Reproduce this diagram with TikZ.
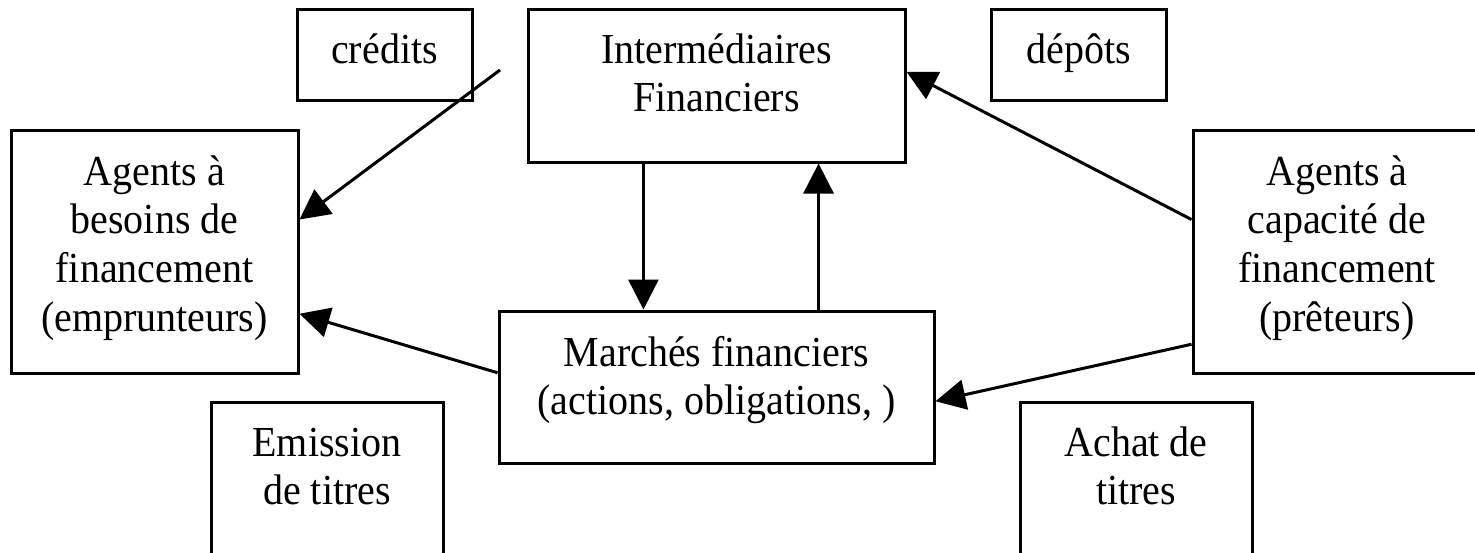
\documentclass[tikz,border=0pt]{standalone}
\usepackage{fontspec}
\setmainfont{Liberation Serif}
\usepackage{graphicx}
\usetikzlibrary{arrows.meta,calc}
\newcommand\boxtext[1]{\scalebox{1}[1.07]{\begin{tabular}[t]{@{}c@{}}#1\end{tabular}}}
\begin{document}
\begin{tikzpicture}[x=0.5pt,y=-0.5pt,
  box/.style={draw=black,line width=1.5pt,inner sep=0pt},
  txt/.style={anchor=base,inner sep=0pt,font=\fontsize{20}{22.76}\selectfont},
  arr/.style={line width=1.5pt,-{Triangle[length=15pt,width=15pt]}},
  ln/.style={line width=1.5pt}]
\useasboundingbox (0,0) rectangle (1475,552);
\clip (0,0) rectangle (1475,552);
\fill[white] (0,0) rectangle (1475,552);
% boxes
\node[box,minimum width=87.5pt,minimum height=45.5pt] (credits) at (384.5,54.5) {};
\node[box,minimum width=188.5pt,minimum height=76.5pt] (inter) at (716.5,85.5) {};
\node[box,minimum width=87.5pt,minimum height=45.5pt] (depots) at (1078.5,54.5) {};
\node[box,minimum width=143.5pt,minimum height=121.5pt] (besoins) at (154.5,251.5) {};
\node[box,minimum width=143.5pt,minimum height=121.5pt] (capacite) at (1336.5,251.5) {};
\node[box,minimum width=217.5pt,minimum height=76pt] (marches) at (716.5,387) {};
\node[box,minimum width=116pt,minimum height=89pt] (emission) at (327,491) {};
\node[box,minimum width=116pt,minimum height=89pt] (achat) at (1136,491) {};
% texts
\node[txt] (creditsT) at (384.5,63) {\boxtext{crédits}};
\node[txt] (interT) at (716.5,63) {\boxtext{Intermédiaires\\Financiers}};
\node[txt] (depotsT) at (1078.5,63) {\boxtext{dépôts}};
\node[txt] (besoinsT) at (154.5,185) {\boxtext{Agents à\\besoins de\\financement\\(emprunteurs)}};
\node[txt] (capaciteT) at (1337,185) {\boxtext{Agents à\\capacité de\\financement\\(prêteurs)}};
\node[txt] (marchesT) at (716.5,366) {\boxtext{Marchés financiers\\(actions, obligations, )}};
\node[txt] (emissionT) at (327,456) {\boxtext{Emission\\de titres}};
\node[txt] (achatT) at (1136,456) {\boxtext{Achat de\\titres}};
% connectors
\coordinate (cstart) at (500,70);
\draw[arr] (cstart) -- ($(besoins.north east)!0.37!(besoins.south east)$);
\draw[arr] ($(inter.south west)!0.3077!(inter.south east)$) coordinate (d1) -- (d1 |- marches.north);
\draw[arr] ($(marches.north west)!0.733!(marches.north east)$) coordinate (u1) -- (u1 |- inter.south);
\draw[arr] ($(capacite.north west)!0.37!(capacite.south west)$) -- ($(inter.north east)!0.412!(inter.south east)$);
\draw[arr] ($(marches.north west)!0.408!(marches.south west)$) -- ($(besoins.north east)!0.753!(besoins.south east)$);
\draw[arr] ($(capacite.north west)!0.877!(capacite.south west)$) -- ($(marches.north east)!0.592!(marches.south east)$);
\end{tikzpicture}
\end{document}
